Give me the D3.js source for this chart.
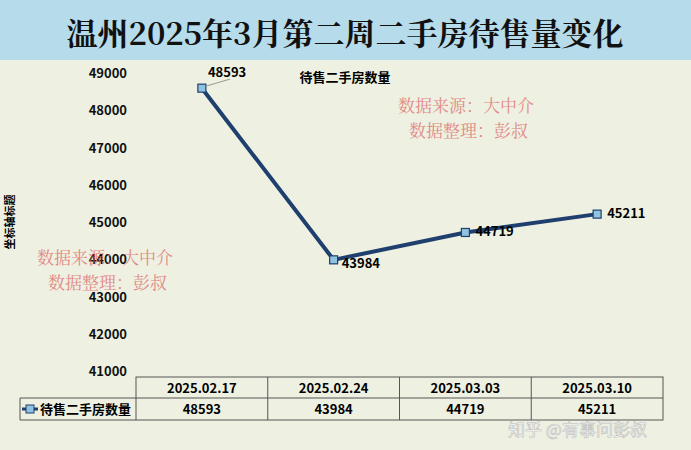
<!DOCTYPE html><html><head><meta charset="utf-8"><script src="https://cdn.jsdelivr.net/npm/d3@7"></script>
<style>body{margin:0}svg{display:block}</style></head><body><script>
const categories=["2025.02.17","2025.02.24","2025.03.03","2025.03.10"];
const values=[48593,43984,44719,45211];
const yTicks=[41000,42000,43000,44000,45000,46000,47000,48000,49000];
const seriesName="待售二手房数量";
const W=691,H=450;
const svg=d3.select("body").append("svg").attr("width",W).attr("height",H);
const F="'Noto Sans CJK SC',sans-serif";
svg.append("rect").attr("width",W).attr("height",H).attr("fill","#eef1e1");
svg.append("rect").attr("width",W).attr("height",60).attr("fill","#b6dbea");
svg.append("text").attr("x",345).attr("y",45).attr("text-anchor","middle").attr("font-family","'Noto Serif CJK SC','Noto Sans CJK SC',serif").attr("font-weight","bold").attr("font-size",31).attr("fill","#111").text("温州2025年3月第二周二手房待售量变化");
const x=d3.scaleBand().domain(categories).range([136,663]);
const y=d3.scaleLinear().domain([41000,49000]).range([371,73]);
const g=svg.append("g");
yTicks.forEach(t=>g.append("text").attr("x",127).attr("y",y(t)+5).attr("text-anchor","end").attr("font-family",F).attr("font-weight","bold").attr("font-size",13).attr("fill","#111").text(t));
svg.append("text").attr("transform","translate(14,222) rotate(-90)").attr("text-anchor","middle").attr("font-family",F).attr("font-weight","bold").attr("font-size",11).text("坐标轴标题");
svg.append("text").attr("x",345).attr("y",82).attr("text-anchor","middle").attr("font-family",F).attr("font-weight","bold").attr("font-size",13).text(seriesName);
const cx=d=>x(d)+x.bandwidth()/2;
const line=d3.line().x((d,i)=>cx(categories[i])).y(d=>y(d));
svg.append("path").datum(values).attr("d",line).attr("fill","none").attr("stroke","#1f3f6e").attr("stroke-width",4);
values.forEach((v,i)=>{svg.append("rect").attr("x",cx(categories[i])-4).attr("y",y(v)-4).attr("width",8).attr("height",8).attr("fill","#8fc3e0").attr("stroke","#1f3f6e").attr("stroke-width",1.2);});
const lab=[[6,-11,"start"],[8,8,"start"],[10,4,"start"],[10,4,"start"]];
values.forEach((v,i)=>{const px=cx(categories[i]),py=y(v);
 if(i==0)svg.append("line").attr("x1",px+4).attr("y1",py-2).attr("x2",px+28).attr("y2",py-9).attr("stroke","#999");
 svg.append("text").attr("x",px+lab[i][0]).attr("y",py+lab[i][1]).attr("font-family",F).attr("font-weight","bold").attr("font-size",13).text(v);});
const wm=(x0,y0)=>{svg.append("text").attr("x",x0).attr("y",y0).attr("font-family","'Noto Serif CJK SC',serif").attr("font-size",17).attr("fill","#e07070").attr("opacity",0.8).text("数据来源：大中介");
 svg.append("text").attr("x",x0+11).attr("y",y0+25).attr("font-family","'Noto Serif CJK SC',serif").attr("font-size",17).attr("fill","#e07070").attr("opacity",0.8).text("数据整理：彭叔");};
wm(398,112);wm(37,264);
const t=svg.append("g").attr("stroke","#555").attr("fill","none");
t.append("rect").attr("x",136).attr("y",377).attr("width",527).attr("height",43);
t.append("line").attr("x1",20).attr("x2",663).attr("y1",398).attr("y2",398);
t.append("line").attr("x1",20).attr("x2",20).attr("y1",398).attr("y2",420);
t.append("line").attr("x1",20).attr("x2",136).attr("y1",420).attr("y2",420);
categories.slice(1).forEach(c=>t.append("line").attr("x1",x(c)).attr("x2",x(c)).attr("y1",377).attr("y2",420));
categories.forEach((c,i)=>{svg.append("text").attr("x",cx(c)).attr("y",393).attr("text-anchor","middle").attr("font-family",F).attr("font-weight","bold").attr("font-size",13).text(c);
 svg.append("text").attr("x",cx(c)).attr("y",414).attr("text-anchor","middle").attr("font-family",F).attr("font-weight","bold").attr("font-size",13).text(values[i]);});
svg.append("line").attr("x1",22).attr("x2",38).attr("y1",409).attr("y2",409).attr("stroke","#1f3f6e").attr("stroke-width",3);
svg.append("rect").attr("x",26).attr("y",405).attr("width",8).attr("height",8).attr("fill","#8fc3e0").attr("stroke","#1f3f6e");
svg.append("text").attr("x",40).attr("y",414).attr("font-family",F).attr("font-weight","bold").attr("font-size",13).text(seriesName);
svg.append("text").attr("x",508).attr("y",436).attr("font-family",F).attr("font-size",17).attr("fill","#fff").attr("stroke","#bbb").attr("stroke-width",0.6).text("知乎 @有事问彭叔");
</script></body></html>
